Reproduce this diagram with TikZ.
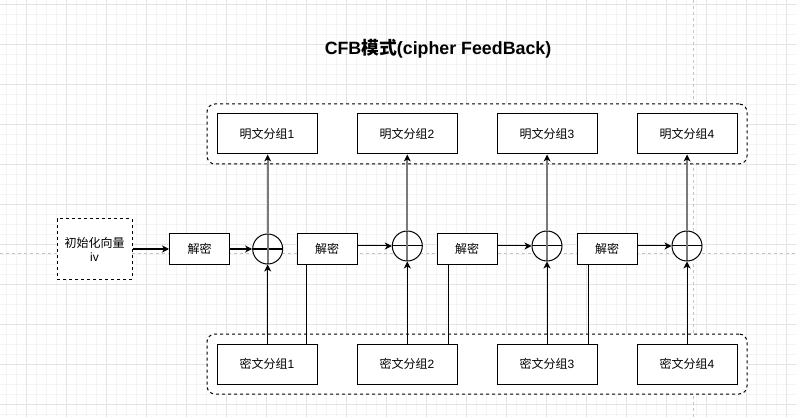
\documentclass[tikz,border=0pt]{standalone}
\usepackage{fontspec}
\setmainfont{Liberation Sans}
\newfontfamily\cjk{Noto Sans CJK SC}
\usetikzlibrary{arrows.meta}
\definecolor{gminor}{HTML}{F4F4F4}
\definecolor{gmajor}{HTML}{E4E4E4}
\definecolor{guidec}{HTML}{C4C4C4}
\definecolor{grayline}{HTML}{7A7A7A}
\tikzset{
  gridminor/.style={gminor, line width=0.8pt},
  gridmajor/.style={gmajor, line width=0.8pt},
  guide/.style={guidec, line width=0.8pt, dash pattern=on 3pt off 3pt},
  txt/.style={font=\fontsize{12}{14}\selectfont},
  blockbox/.style={txt, draw, fill=white, line width=1pt, minimum width=100pt, minimum height=40pt, inner sep=0pt},
  decbox/.style={txt, draw, fill=white, line width=1pt, minimum width=60pt, minimum height=30pt, inner sep=0pt},
  ivbox/.style={txt, draw, fill=white, line width=1pt, dash pattern=on 3pt off 3pt, minimum width=75pt, minimum height=60pt, inner sep=0pt, align=center},
  container/.style={draw, fill=white, line width=1pt, dash pattern=on 3pt off 3pt, rounded corners=8pt, minimum width=540pt, minimum height=60pt, inner sep=0pt},
  xor/.style={circle, draw, fill=white, line width=1pt, minimum size=30pt, inner sep=0pt,
    path picture={
      \draw[line width=1pt] (path picture bounding box.west) -- (path picture bounding box.east);
      \draw[grayline, line width=2pt] (path picture bounding box.north) -- (path picture bounding box.south);
    }},
  arr/.style={line width=1pt, -{Stealth[length=7pt, width=7pt, inset=2pt]}},
  grayarr/.style={grayline, line width=2pt, -{Stealth[length=7pt, width=7pt, inset=2pt, line width=0pt, color=black]}},
  plainline/.style={line width=1pt}
}
\begin{document}
\begin{tikzpicture}[x=1pt, y=-1pt]
\useasboundingbox[fill=white] (0,0) rectangle (796,417);
% grid
\foreach \i in {0,...,79} \draw[gridminor] ({6.7+10*\i},0) -- ({6.7+10*\i},417);
\foreach \i in {0,...,41} \draw[gridminor] (0,{4.3+10*\i}) -- (796,{4.3+10*\i});
\foreach \i in {0,...,19} \draw[gridmajor] ({26.7+40*\i},0) -- ({26.7+40*\i},417);
\foreach \i in {0,...,10} \draw[gridmajor] (0,{4.3+40*\i}) -- (796,{4.3+40*\i});
% guides
\draw[guide] (0,253.3) -- (796,253.3);
\draw[guide] (693.3,0) -- (693.3,417);

% title
\node[font=\bfseries\fontsize{17.8}{21}\selectfont] (title) at (438,49) {CFB{\cjk 模式}(cipher FeedBack)};

% containers
\node[container] (topc) at (477,134) {};
\node[container] (botc) at (477,364) {};

% plaintext blocks
\node[blockbox] (p1) at (267,134) {{\cjk 明文分组}1};
\node[blockbox] (p2) at (407,134) {{\cjk 明文分组}2};
\node[blockbox] (p3) at (547,134) {{\cjk 明文分组}3};
\node[blockbox] (p4) at (687,134) {{\cjk 明文分组}4};

% ciphertext blocks
\node[blockbox] (k1) at (267,364) {{\cjk 密文分组}1};
\node[blockbox] (k2) at (407,364) {{\cjk 密文分组}2};
\node[blockbox] (k3) at (547,364) {{\cjk 密文分组}3};
\node[blockbox] (k4) at (687,364) {{\cjk 密文分组}4};

% iv
\node[ivbox] (iv) at (94.5,249) {{\cjk 初始化向量}\\iv};

% decrypt boxes
\node[decbox] (d1) at (199.5,249) {\cjk 解密};
\node[decbox] (d2) at (327,249) {\cjk 解密};
\node[decbox] (d3) at (467,249) {\cjk 解密};
\node[decbox] (d4) at (607,249) {\cjk 解密};

% xor circles
\node[xor] (c1) at (267.7,249) {};
\node[xor] (c2) at (407.3,246) {};
\node[xor] (c3) at (547,246) {};
\node[xor] (c4) at (687,246) {};

% horizontal connectors
\draw[arr] (iv.east) -- (d1.west);
\draw[arr] (d1.east) -- (c1.west);
\draw[arr] (d2.east |- c2.west) -- (c2.west);
\draw[arr] (d3.east |- c3.west) -- (c3.west);
\draw[arr] (d4.east |- c4.west) -- (c4.west);

% up to plaintext
\draw[grayarr] (c1.north) -- (c1.north |- p1.south);
\draw[grayarr] (c2.north) -- (c2.north |- p2.south);
\draw[grayarr] (c3.north) -- (c3.north |- p3.south);
\draw[grayarr] (c4.north) -- (c4.north |- p4.south);

% ciphertext to xor
\draw[arr] (c1.south |- k1.north) -- (c1.south);
\draw[arr] (c2.south |- k2.north) -- (c2.south);
\draw[arr] (c3.south |- k3.north) -- (c3.south);
\draw[arr] (c4.south |- k4.north) -- (c4.south);

% ciphertext feedback to next decrypt
\draw[plainline] ([xshift=10pt]d2.south west |- k1.north) -- ([xshift=10pt]d2.south west);
\draw[plainline] ([xshift=12pt]d3.south west |- k2.north) -- ([xshift=12pt]d3.south west);
\draw[plainline] ([xshift=12pt]d4.south west |- k3.north) -- ([xshift=12pt]d4.south west);
\end{tikzpicture}
\end{document}
